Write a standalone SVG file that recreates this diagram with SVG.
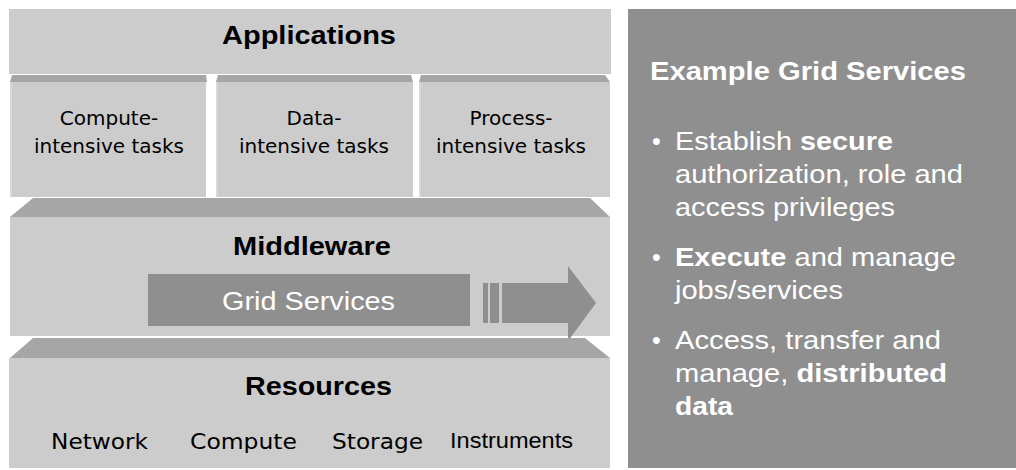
<svg xmlns="http://www.w3.org/2000/svg" width="1016" height="470" viewBox="0 0 1016 470">
<style>
.box{fill:#cccccc}
.face{fill:#a6a6a6}
.hl{fill:#d9d9d9}
.dark{fill:#8f8f8f}
.h{font-family:"Liberation Sans",Arial,sans-serif;font-weight:bold;font-size:25px;fill:#000}
.t{font-family:"DejaVu Sans",Verdana,sans-serif;font-size:20px;fill:#000;text-anchor:middle}
.r{font-family:"DejaVu Sans",Verdana,sans-serif;font-size:22px;fill:#000}
.w{font-family:"Liberation Sans",Arial,sans-serif;font-size:25px;fill:#fff}
.b{font-weight:bold}
</style>
<rect width="1016" height="470" fill="#fff"/>
<g id="applications">
<rect class="box" x="9" y="9" width="602" height="65"/>
<text class="h" x="222" y="44" textLength="174" lengthAdjust="spacingAndGlyphs">Applications</text>
</g>
<g id="compute-tasks">
<polygon class="face" points="10,82 12,75 206,75 207,82"/>
<rect class="box" x="10" y="82" width="196" height="115"/>
<rect class="hl" x="10" y="82" width="2" height="115"/>
<text class="t" x="109" y="125">Compute-</text>
<text class="t" x="109" y="153">intensive tasks</text>
</g>
<g id="data-tasks">
<polygon class="face" points="216,82 218,75 411,75 413,82"/>
<rect class="box" x="216" y="82" width="197" height="115"/>
<rect class="hl" x="216" y="82" width="2" height="115"/>
<text class="t" x="314" y="125">Data-</text>
<text class="t" x="314" y="153">intensive tasks</text>
</g>
<g id="process-tasks">
<polygon class="face" points="419,82 421,75 605,75 610,82"/>
<rect class="box" x="419" y="82" width="191" height="115"/>
<rect class="hl" x="419" y="82" width="2" height="115"/>
<text class="t" x="511" y="125">Process-</text>
<text class="t" x="511" y="153">intensive tasks</text>
</g>
<g id="middleware">
<polygon class="face" points="33,198 590,198 610,217 10,217"/>
<rect class="box" x="10" y="217" width="600" height="119"/>
<text class="h" x="233" y="255" textLength="158" lengthAdjust="spacingAndGlyphs">Middleware</text>
</g>
<g id="grid-services">
<rect class="dark" x="148" y="274" width="322" height="52"/>
<text class="w" x="222" y="310" textLength="173" lengthAdjust="spacingAndGlyphs">Grid Services</text>
</g>
<g id="connectors">
<rect class="dark" x="483" y="283" width="5" height="40"/>
<rect class="dark" x="490" y="283" width="9" height="40"/>
<polygon class="dark" points="502,283 568,283 568,266 596,303 568,341 568,323 502,323"/>
</g>
<g id="resources">
<polygon class="face" points="33,338 585,338 610,358 10,358"/>
<rect class="box" x="9" y="358" width="601" height="110"/>
<text class="h" x="245" y="395" textLength="147" lengthAdjust="spacingAndGlyphs">Resources</text>
<text class="r" x="51" y="449" textLength="97" lengthAdjust="spacingAndGlyphs">Network</text>
<text class="r" x="190" y="449" textLength="107" lengthAdjust="spacingAndGlyphs">Compute</text>
<text class="r" x="332" y="449" textLength="91" lengthAdjust="spacingAndGlyphs">Storage</text>
<text class="r" x="450" y="448" textLength="123" lengthAdjust="spacingAndGlyphs" style="font-family:'Liberation Sans',Arial,sans-serif">Instruments</text>
</g>
<g id="example-panel">
<rect class="dark" x="628" y="9" width="388" height="459"/>
<text class="w b" x="650" y="80" textLength="316" lengthAdjust="spacingAndGlyphs">Example Grid Services</text>
<text class="w" x="652" y="150">•</text>
<text class="w" x="675" y="150" textLength="218" lengthAdjust="spacingAndGlyphs">Establish <tspan class="b">secure</tspan></text>
<text class="w" x="675" y="183" textLength="288" lengthAdjust="spacingAndGlyphs">authorization, role and</text>
<text class="w" x="675" y="216" textLength="220" lengthAdjust="spacingAndGlyphs">access privileges</text>
<text class="w" x="652" y="266">•</text>
<text class="w" x="675" y="266" textLength="281" lengthAdjust="spacingAndGlyphs"><tspan class="b">Execute</tspan> and manage</text>
<text class="w" x="675" y="299" textLength="168" lengthAdjust="spacingAndGlyphs">jobs/services</text>
<text class="w" x="652" y="349">•</text>
<text class="w" x="675" y="349" textLength="266" lengthAdjust="spacingAndGlyphs">Access, transfer and</text>
<text class="w" x="675" y="382" textLength="272" lengthAdjust="spacingAndGlyphs">manage, <tspan class="b">distributed</tspan></text>
<text class="w b" x="675" y="415" textLength="58" lengthAdjust="spacingAndGlyphs">data</text>
</g>
</svg>
